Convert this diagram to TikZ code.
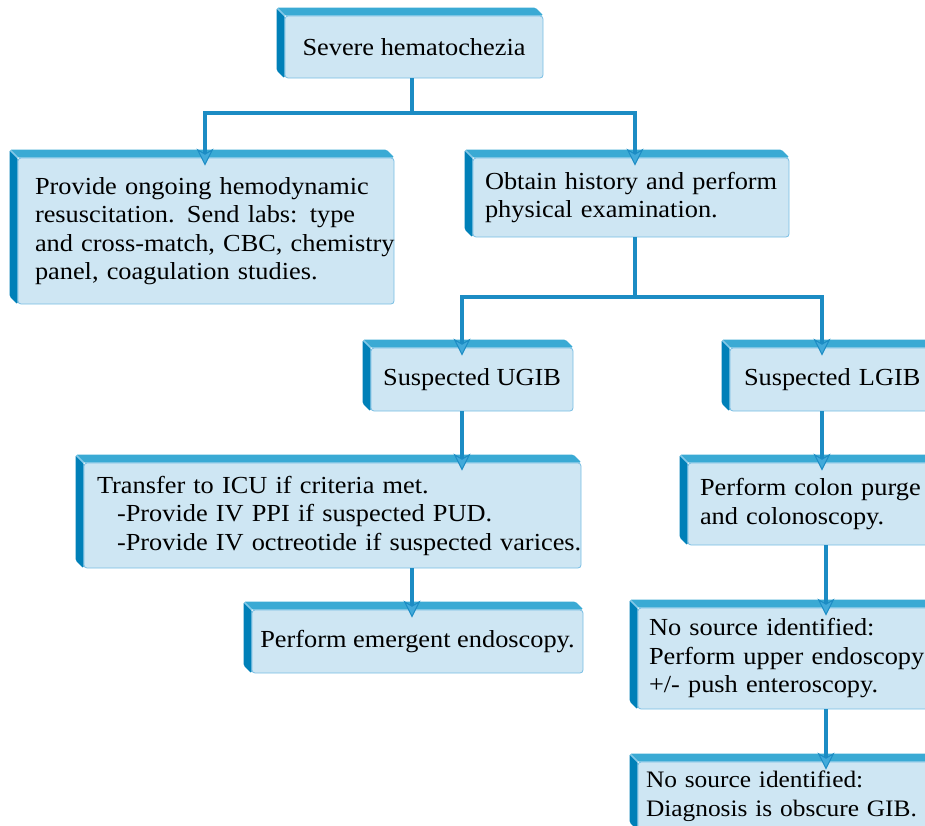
\documentclass[tikz,border=0pt]{standalone}
\usepackage{fontspec}
\setmainfont[FakeStretch=1.075]{Liberation Serif}
\usepackage{tikz}
\usetikzlibrary{positioning,arrows.meta,calc}
\definecolor{facecol}{RGB}{206,230,243}
\definecolor{rimcol}{RGB}{120,190,228}
\definecolor{topcol}{RGB}{58,170,212}
\definecolor{sidecol}{RGB}{0,128,184}
\definecolor{glintcol}{RGB}{130,200,232}
\definecolor{linecol}{RGB}{28,140,196}
\definecolor{tipcol}{RGB}{66,170,218}
\newcommand{\flowfont}{\fontsize{24.5}{28.5}\selectfont}

\begin{document}
\begin{tikzpicture}[x=1pt,y=1pt,
        stepbox/.style={fill=facecol,draw=rimcol,line width=0.8pt,
          rounded corners=3pt,inner sep=0pt,font=\flowfont,
          append after command={\pgfextra{%
            \fill[topcol,rounded corners=1.5pt] (\tikzlastnode.north west) -- ++(-8,8)
              -- ([shift={(-8,8)}]\tikzlastnode.north east) -- (\tikzlastnode.north east) -- cycle;
            \fill[sidecol,rounded corners=1.5pt] (\tikzlastnode.north west) -- ++(-8,8)
              -- ([shift={(-8,8)}]\tikzlastnode.south west) -- (\tikzlastnode.south west) -- cycle;
            \draw[glintcol,line width=1.5pt] (\tikzlastnode.north west) -- ++(-7,7);}}},
        leftbox/.style={stepbox,align=left,
          execute at begin node={\rightskip=-60pt plus 1fil}},
        midbox/.style={stepbox,align=center},
        link/.style={draw=linecol,line width=3.5pt},
        flowarrow/.style={link,shorten >=-8pt,
          -{Stealth[length=17pt,width=17pt,inset=5pt,fill=tipcol,color=linecol,line width=1pt]}}
      ]
      \useasboundingbox (0,0) rectangle (925,-825);
      \clip (0,0) rectangle (925,-825);

      % the boxes
      \node[midbox,minimum width=258,minimum height=62] (sev) at (414,-47) {Severe hematochezia};
      \node[leftbox,minimum width=376,minimum height=146,text width=342] (labs) at (206,-231)
        {Provide ongoing hemodynamic\\resuscitation. Send labs: type\\and cross-match, CBC, chemistry\\panel, coagulation studies.};
      \node[leftbox,minimum width=316,minimum height=79,text width=292] (hist) at (631,-197.5)
        {Obtain history and perform\\physical examination.};
      \node[midbox,minimum width=202,minimum height=63] (ugib) at (472,-379.5) {Suspected UGIB};
      \node[leftbox,minimum width=220,minimum height=63,text width=192] (lgib) at (840,-379.5) {Suspected LGIB};
      \node[leftbox,minimum width=497,minimum height=105,text width=471] (icu) at (332.5,-515.5)
        {Transfer to ICU if criteria met.\\\hspace*{20pt}-Provide IV PPI if suspected PUD.\\\hspace*{20pt}-Provide IV octreotide if suspected varices.};
      \node[midbox,minimum width=331,minimum height=63] (emerg) at (417.5,-641.5) {Perform emergent endoscopy.};
      \node[leftbox,minimum width=262,minimum height=82,text width=238] (colon) at (819,-504)
        {Perform colon purge\\and colonoscopy.};
      \node[leftbox,minimum width=312,minimum height=101,text width=290] (upper) at (794,-658.5)
        {No source identified:\\Perform upper endoscopy\\+/- push enteroscopy.};
      \node[leftbox,minimum width=312,minimum height=68,text width=296,
            font=\fontsize{23.6}{28.5}\selectfont] (obscure) at (794,-796)
        {No source identified:\\Diagnosis is obscure GIB.};

      % branch points
      \coordinate (j1) at (412,-113);
      \coordinate (j2) at (635,-297);
      \coordinate (bl) at (205,0);
      \coordinate (cu) at (462,0);
      \coordinate (cl) at (822,0);
      \coordinate (cr) at (826,0);

      % the connectors
      \draw[link] (sev.south -| j1) -- (j1);
      \draw[flowarrow] (j1) -| (labs.north -| bl);
      \draw[flowarrow] (j1) -| (hist.north -| j2);
      \draw[link] (hist.south -| j2) -- (j2);
      \draw[flowarrow] (j2) -| (ugib.north -| cu);
      \draw[flowarrow] (j2) -| (lgib.north -| cl);
      \draw[flowarrow] (ugib.south -| cu) -- (icu.north -| cu);
      \draw[flowarrow] (icu.south -| j1) -- (emerg.north -| j1);
      \draw[flowarrow] (lgib.south -| cl) -- (colon.north -| cl);
      \draw[flowarrow] (colon.south -| cr) -- (upper.north -| cr);
      \draw[flowarrow] (upper.south -| cr) -- (obscure.north -| cr);
 \end{tikzpicture}
\end{document}
